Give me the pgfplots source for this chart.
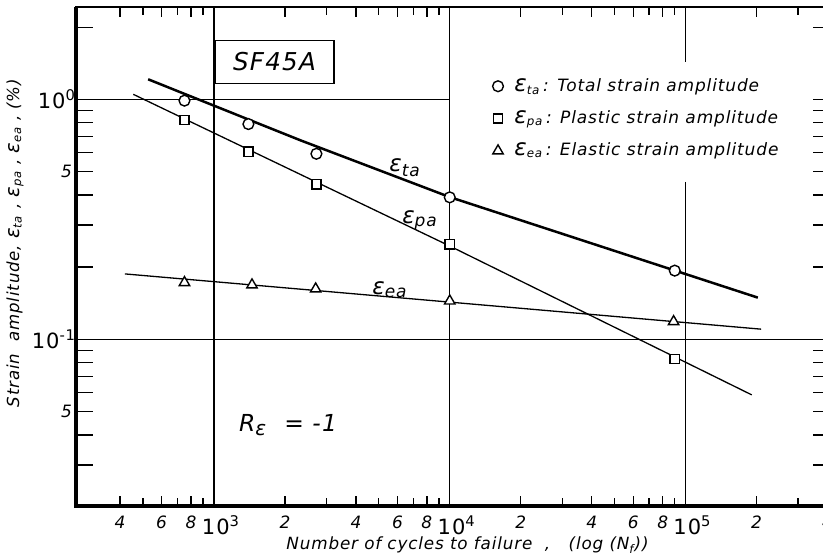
\documentclass[border=0pt]{standalone}
\usepackage{pgfplots}
\pgfplotsset{compat=1.18}
\usepackage{fontspec}
\setmainfont{DejaVu Sans}[LetterSpace=5]
\newcommand\eps[2][10.5]{{\fontsize{#1}{#1}\selectfont\itshape ε}\textsubscript{\itshape #2}}
\pgfplotsset{mylegend/.style={legend image code/.code={\draw[##1] plot coordinates {(0pt,0pt)};}}}
\begin{document}
\begin{tikzpicture}
\useasboundingbox (-38pt,-26.5pt) rectangle (373.5pt,253pt);
\begin{axis}[
  at={(0pt,0pt)}, anchor=south west,
  scale only axis, width=377pt, height=249.5pt,
  xmode=log, ymode=log,
  xmin=260, xmax=4.1e5, ymin=0.0202, ymax=2.43,
  axis line style={line width=1pt},
  tick align=inside,
  xtick pos=both, ytick pos=both, xticklabel pos=lower, yticklabel pos=left,
  tick style={black, line width=0.7pt},
  xtick style={/pgfplots/major tick length=5pt,/pgfplots/minor tick length=4pt},
  ytick style={/pgfplots/major tick length=8.5pt,/pgfplots/minor tick length=8.5pt},
  xtick={400,600,800,2000,4000,6000,8000,20000,40000,60000,80000,200000,400000},
  xticklabels={4,6,8,2,4,6,8,2,4,6,8,2,4},
  minor xtick={500,700,900,3000,5000,7000,9000,30000,50000,70000,90000,300000},
  ytick={0.05,0.5},
  yticklabels={5,5},
  minor ytick={0.03,0.04,0.06,0.07,0.08,0.09,0.2,0.3,0.4,0.6,0.7,0.8,0.9,2},
  extra x ticks={1000,10000,100000},
  extra x tick labels={10\textsuperscript{3},10\textsuperscript{4},10\textsuperscript{5}},
  extra y ticks={0.1,1},
  extra y tick labels={10\textsuperscript{-1},10\textsuperscript{0}},
  extra x tick style={major tick length=0pt, tick label style={font=\fontsize{10.5}{11}\selectfont, xshift=3.5pt}},
  extra y tick style={major tick length=0pt, tick label style={font=\fontsize{10.5}{11}\selectfont, xshift=2pt}},
  tick label style={font=\itshape\fontsize{8.5}{10}\selectfont},
  xticklabel style={yshift=-1.5pt},
  yticklabel style={xshift=1.5pt},
  legend style={at={(rel axis cs:0.552,0.862)}, anchor=north west, draw=none, fill=none,
    inner sep=0pt, row sep=6.2pt, column sep=4.5pt,
    font=\itshape\fontsize{8.5}{10}\selectfont, nodes={inner sep=1pt}},
  legend cell align=left,
]
% guide lines of the original chart
\draw[line width=0.55pt] (axis cs:1000,0.0202) -- (axis cs:1000,2.43);
\draw[line width=0.55pt] (axis cs:10000,0.0202) -- (axis cs:10000,2.43);
\draw[line width=0.55pt] (axis cs:100000,2.43) -- (axis cs:100000,1.43);
\draw[line width=0.55pt] (axis cs:100000,0.453) -- (axis cs:100000,0.0202);
\draw[line width=0.55pt] (axis cs:260,1) -- (axis cs:10000,1);
\draw[line width=0.55pt] (axis cs:260,0.1) -- (axis cs:4.1e5,0.1);
% fitted lines
\addplot[forget plot, black, line width=1.25pt] coordinates {(526,1.214) (2317,0.677) (10000,0.392) (202600,0.1493)};
\addplot[forget plot, black, line width=0.65pt] coordinates {(455,1.051) (10000,0.245) (191000,0.0587)};
\addplot[forget plot, black, line width=0.65pt] coordinates {(419,0.1875) (209300,0.1103)};
% measured points
\addplot[only marks, mark=*, mark size=2.7pt, mark options={fill=white, draw=black, line width=0.7pt}, mylegend]
  coordinates {(750,0.989) (1400,0.790) (2720,0.594) (10000,0.391) (90000,0.1935)};
\addlegendentry{\eps[11.5]{ta}\,: Total strain amplitude}
\addplot[only marks, mark=square*, mark size=2.3pt, mark options={fill=white, draw=black, line width=0.7pt}, mylegend]
  coordinates {(750,0.821) (1400,0.606) (2720,0.443) (10000,0.249) (90000,0.0829)};
\addlegendentry{\eps[11.5]{pa}\,: Plastic strain amplitude}
\addplot[only marks, mark=triangle*, mark size=3pt, mark options={fill=white, draw=black, line width=0.7pt}, mylegend]
  coordinates {(750,0.1725) (1450,0.1687) (2700,0.1623) (10000,0.1446) (89000,0.1186)};
\addlegendentry{\eps[11.5]{ea}\,: Elastic strain amplitude}
\end{axis}
\draw[line width=1.6pt] (0pt,249.5pt) -- (0pt,0pt) -- (377pt,0pt);
\node at (164.5pt,169pt) {\eps[11.5]{\fontsize{8.5}{9}\selectfont ta}};
\node at (172pt,143pt) {\eps[11.5]{\fontsize{8.5}{9}\selectfont pa}};
\node at (157pt,108pt) {\eps[11.5]{\fontsize{8.5}{9}\selectfont ea}};
\node[draw, line width=0.8pt, minimum width=59.5pt, minimum height=21.5pt,
  font=\itshape\fontsize{12.3}{13}\selectfont] at (99.25pt,222pt) {SF45A};
\node[font=\itshape\fontsize{11.7}{12}\selectfont] at (106pt,40.5pt) {R\textsubscript{\fontsize{10}{10}\selectfont ε}\ \ =\ -1};
\node[rotate=90, font=\itshape\fontsize{8.3}{9}\selectfont] at (-30.5pt,131.5pt)
  {Strain\ \ amplitude, \eps[9.8]{ta} , \eps[9.8]{pa} , \eps[9.8]{ea} , (\%)};
\node[font=\itshape\fontsize{8.4}{9}\selectfont] at (195.75pt,-19.5pt)
  {Number of cycles to failure\ \ ,\ \ \ (log (N\textsubscript{f}))};
\end{tikzpicture}
\end{document}
